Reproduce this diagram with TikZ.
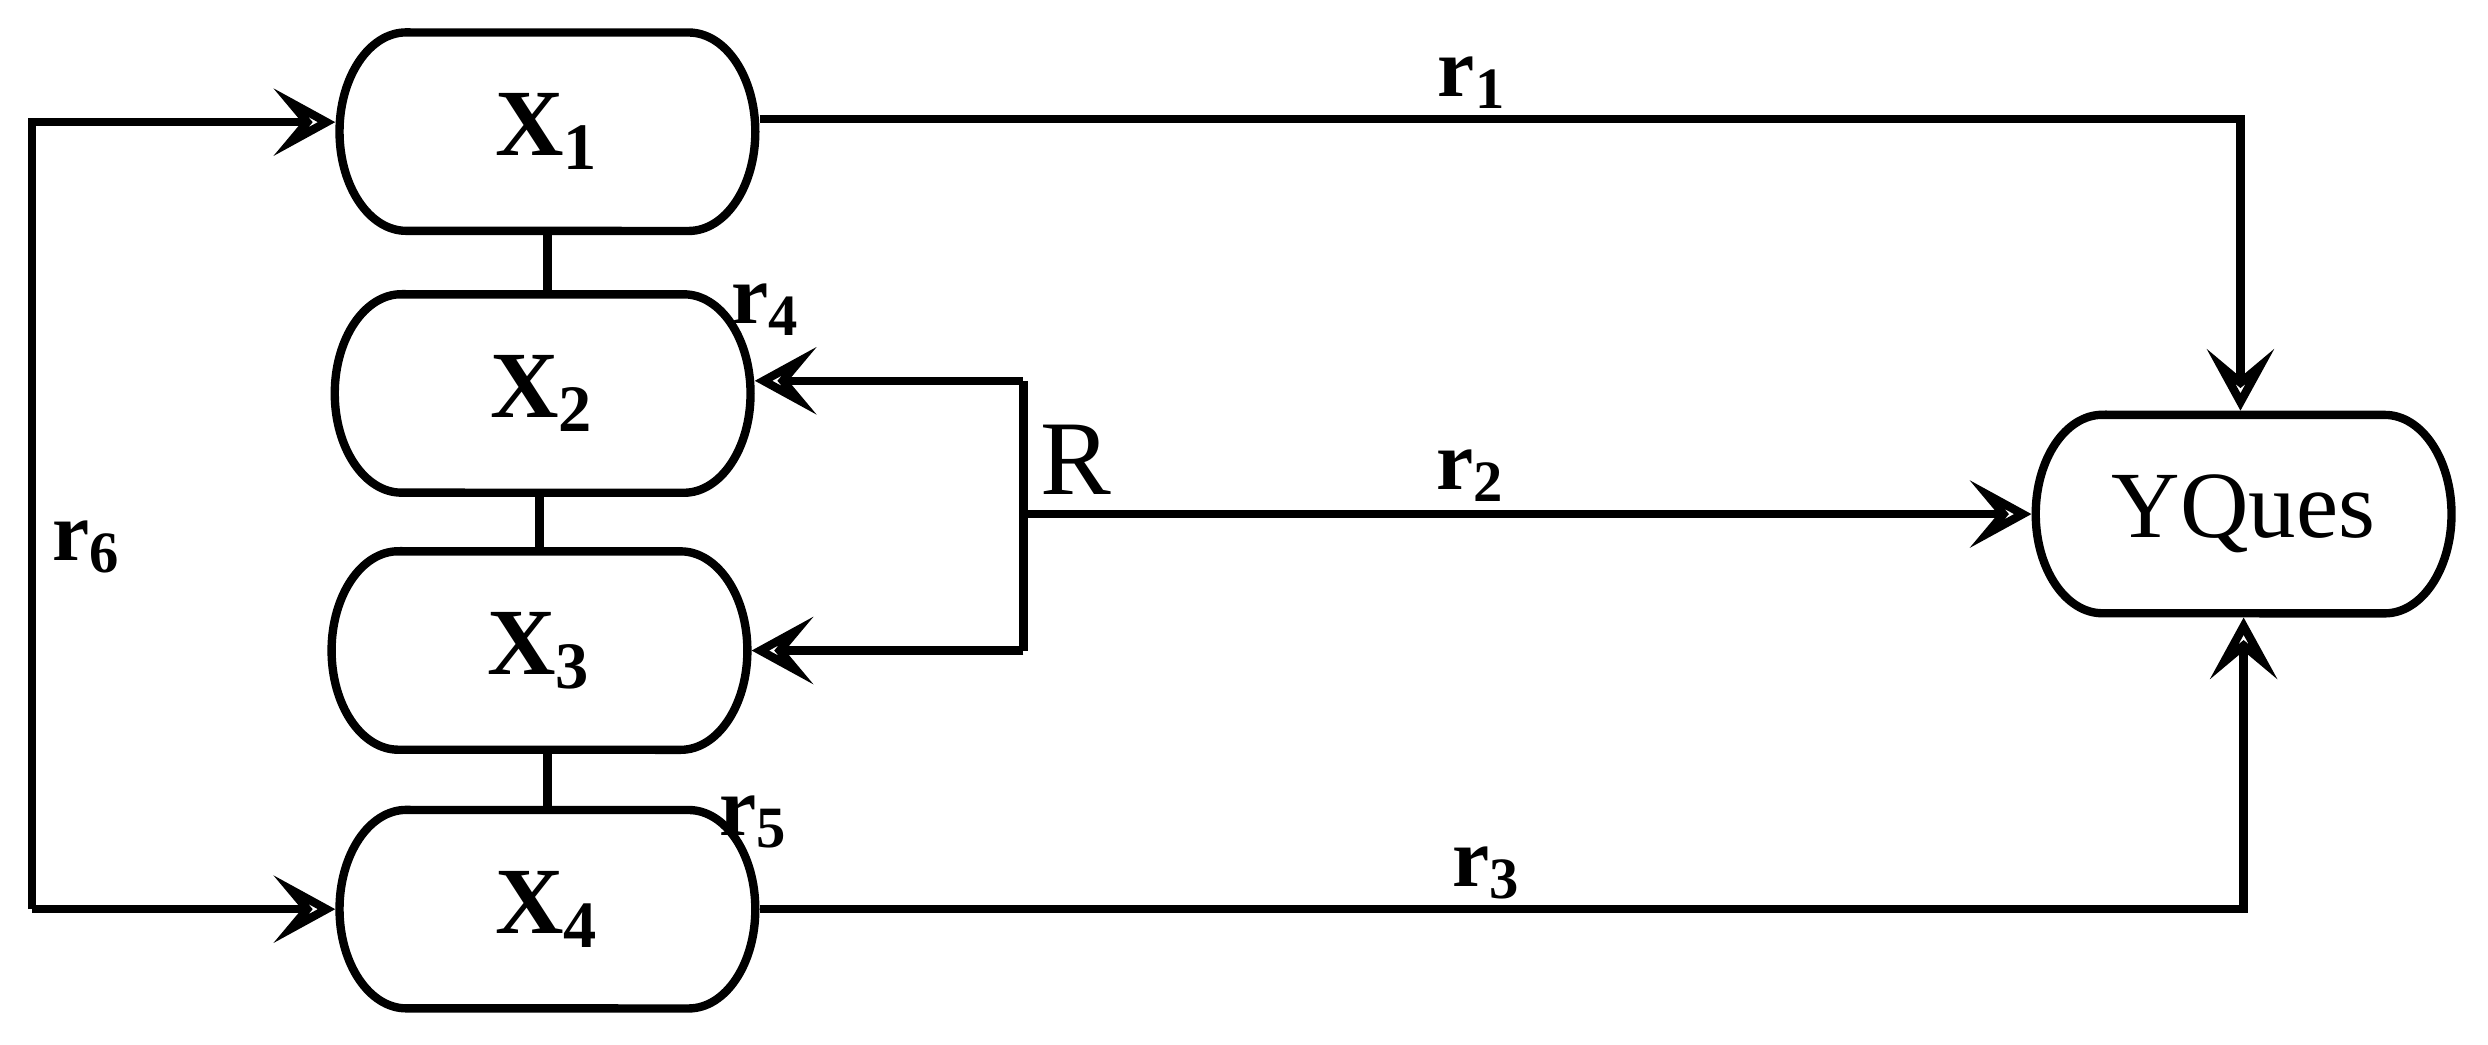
\documentclass[tikz,border=0pt]{standalone}
\usetikzlibrary{arrows.meta}
\usepackage{fontspec}
\setmainfont{Liberation Serif}
\begin{document}
\begin{tikzpicture}[x=0.01cm,y=0.01cm,
  line width=1.5pt,
  arr/.style={-{Stealth[length=11pt,width=12pt,inset=5pt,open,line width=1.5pt]}},
  lab/.style={font=\fontsize{15}{15}\selectfont\bfseries},
  pillnode/.style={minimum width=2.62cm, minimum height=1.25cm, inner sep=0pt, font=\fontsize{17}{17}\selectfont}]
\useasboundingbox (0,0) rectangle (1568,658);
\newcommand{\mypill}[4]{%
  \node[pillnode] (#1) at (#2,#3) {#4};
  \draw (#2-89,#3+62.5) -- (#2+89,#3+62.5)
    arc[start angle=90,end angle=-90,x radius=0.42cm,y radius=0.625cm]
    -- (#2-89,#3-62.5)
    arc[start angle=270,end angle=90,x radius=0.42cm,y radius=0.625cm] -- cycle;}
\mypill{x1}{345}{575}{\textbf{X}\textsubscript{\textbf{1}}}
\mypill{x2}{342}{410}{\textbf{X}\textsubscript{\textbf{2}}}
\mypill{x3}{340}{248}{\textbf{X}\textsubscript{\textbf{3}}}
\mypill{x4}{345}{85}{\textbf{X}\textsubscript{\textbf{4}}}
\mypill{y}{1414}{334}{YQues}
\coordinate (a) at (20,581);
\coordinate (b) at (20,85);
\draw[arr] (b) -- (a) -- (x1.west |- a);
\draw[arr] (b) -- (x4.west);
\node[lab] at (55,313) {r\textsubscript{6}};
\coordinate (c1) at (1412,583);
\draw[arr] (x1.east |- c1) -- (c1) -- (y.north -| c1);
\node[lab] at (928,606) {r\textsubscript{1}};
\coordinate (c3) at (1414,85);
\draw[arr] (x4.east) -- (c3) -- (y.south -| c3);
\node[lab] at (937,108) {r\textsubscript{3}};
\coordinate (j1) at (645,418);
\coordinate (j2) at (645,248);
\coordinate (j) at (645,334);
\draw (j1) -- (j2);
\draw[arr] (j1) -- (x2.east |- j1);
\draw[arr] (j2) -- (x3.east);
\draw[arr] (j) -- (y.west);
\node[lab,font=\fontsize{19}{19}\selectfont] at (678,368) {R};
\node[lab] at (927,358) {r\textsubscript{2}};
\draw (345,512) -- (345,473);
\draw (340,348) -- (340,310);
\draw (345,186) -- (345,147);
\node[lab] at (483,463) {r\textsubscript{4}};
\node[lab] at (475,140) {r\textsubscript{5}};
\end{tikzpicture}
\end{document}
